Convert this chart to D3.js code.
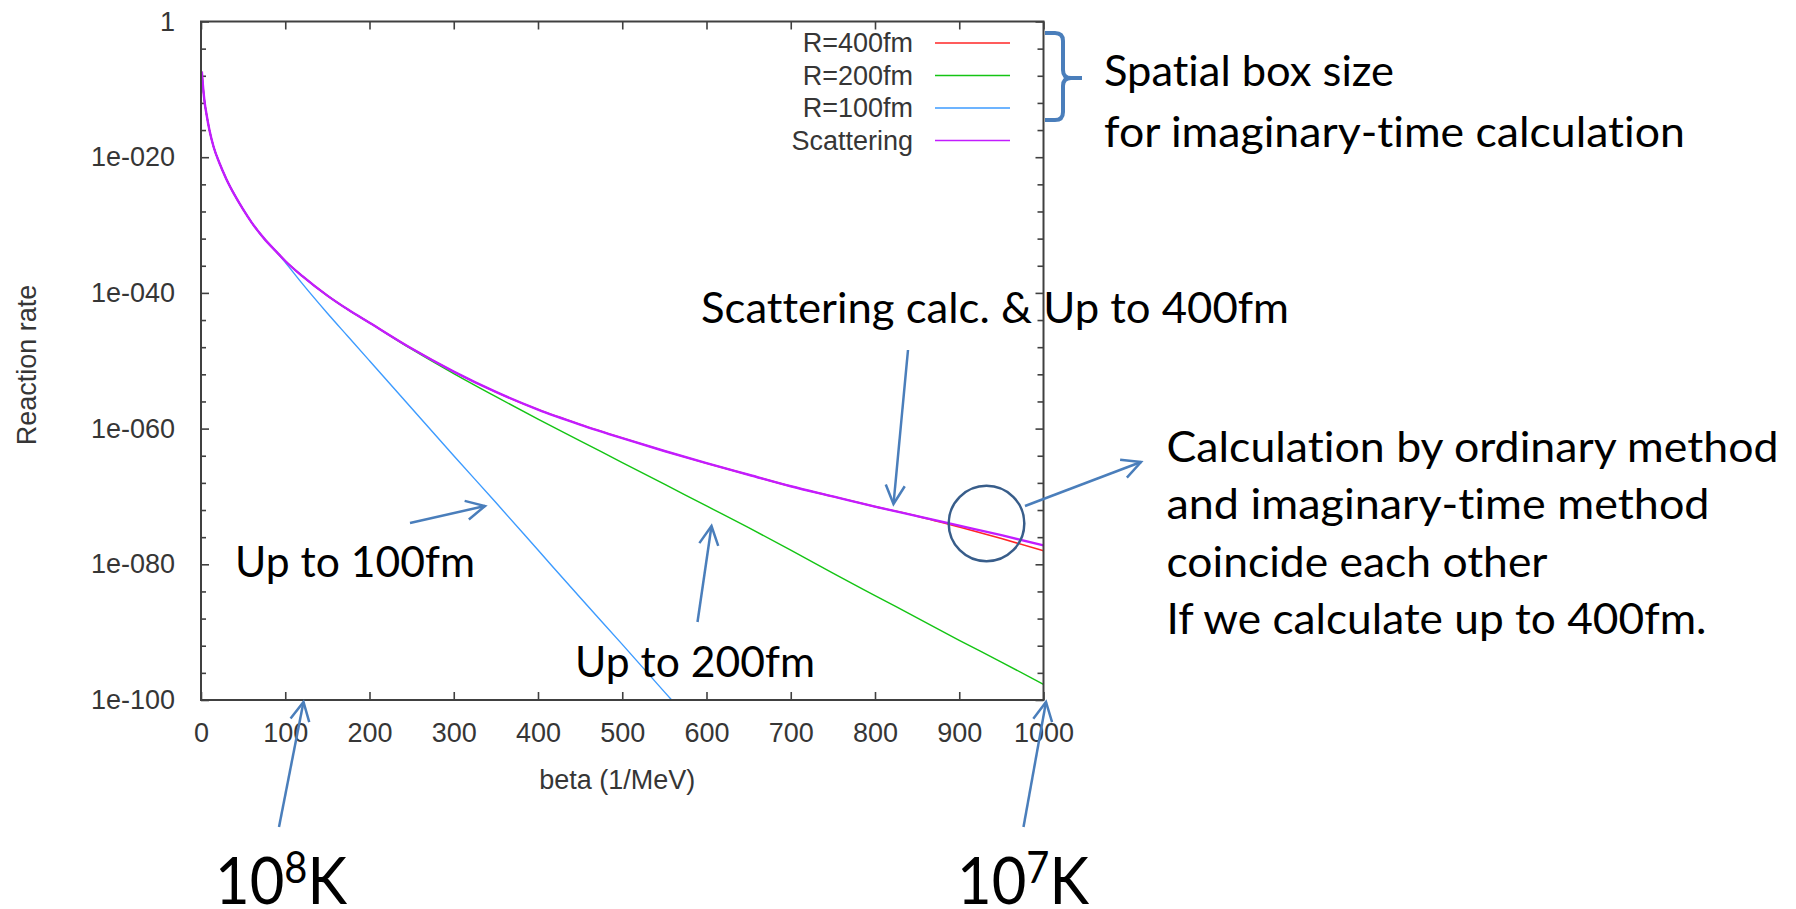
<!DOCTYPE html>
<html><head><meta charset="utf-8">
<script src="https://cdn.jsdelivr.net/npm/d3@7"></script>
<style>
html,body{margin:0;padding:0;background:#fff;}
svg{display:block;}
text{font-variant-ligatures:none;font-feature-settings:"liga" 0,"clig" 0,"dlig" 0;}
</style></head>
<body>
<svg id="chart" width="1796" height="909"></svg>
<script>
// Inverse temperature grid, beta (1/MeV)
const betaGrid = [1,2,4,7,10,15,22,30,40,50,60,75,90,100,120,150,175,200,250,300,350,400,450,500,550,600,650,700,750,800,850,900,950,1000];

// log10 of the reaction rate for each calculation
const scatteringExp = [-7.4,-9.0,-11.6,-14.0,-16.0,-18.5,-20.9,-23.2,-25.6,-27.7,-29.6,-32.0,-34.0,-35.3,-37.5,-40.4,-42.5,-44.4,-48.2,-51.6,-54.6,-57.2,-59.4,-61.4,-63.3,-65.1,-66.8,-68.5,-70.0,-71.5,-72.9,-74.3,-75.7,-77.2];
const r400Exp = [-7.4,-9.0,-11.6,-14.0,-16.0,-18.5,-20.9,-23.2,-25.6,-27.7,-29.6,-32.0,-34.0,-35.3,-37.5,-40.4,-42.5,-44.4,-48.2,-51.6,-54.6,-57.2,-59.4,-61.4,-63.3,-65.1,-66.8,-68.5,-70.0,-71.5,-72.9,-74.5,-76.2,-78.0];
const r200Exp = [-7.4,-9.0,-11.6,-14.0,-16.0,-18.5,-20.9,-23.2,-25.6,-27.7,-29.6,-32.0,-34.0,-35.3,-37.5,-40.4,-42.5,-44.4,-48.3,-51.9,-55.3,-58.6,-61.8,-65.0,-68.2,-71.4,-74.6,-77.9,-81.3,-84.6,-87.9,-91.2,-94.4,-97.7];
const r100Beta = [1,2,4,7,10,15,22,30,40,50,60,75,90,100,120,150,175,200,250,300,350,400,450,500,550,600];
const r100Exp = [-7.4,-9.0,-11.6,-14.0,-16.0,-18.5,-20.9,-23.2,-25.6,-27.7,-29.6,-32.0,-34.0,-35.5,-38.6,-43.0,-46.5,-50.0,-57.0,-64.0,-70.9,-77.9,-84.9,-91.8,-98.8,-105.7];

const seriesNames = ["R=400fm","R=200fm","R=100fm","Scattering"];
const seriesColors = ["#ff2626","#14c414","#3d9bff","#c21cff"];
const seriesWidths = [1.6,1.4,1.4,2.4];

const xTickValues = [0,100,200,300,400,500,600,700,800,900,1000];
const yTickExponents = [0,-20,-40,-60,-80,-100];
const yTickLabels = ["1","1e-020","1e-040","1e-060","1e-080","1e-100"];
const yMinorExponents = [-4,-8,-12,-16,-24,-28,-32,-36,-44,-48,-52,-56,-64,-68,-72,-76,-84,-88,-92,-96];

const series = [
  {beta: betaGrid, exp: r400Exp},
  {beta: betaGrid, exp: r200Exp},
  {beta: r100Beta, exp: r100Exp},
  {beta: betaGrid, exp: scatteringExp}
];

// plot frame
const plotLeft = 201, plotRight = 1043.5, plotTop = 21.5, plotBottom = 700;
const svg = d3.select("#chart");
const x = d3.scaleLinear().domain([0, 1000]).range([plotLeft, plotRight]);
const y = d3.scaleLog().domain([1e-100, 1]).range([plotBottom, plotTop]);

const axisFont = "'Liberation Sans', Arial, sans-serif";
const axisInk = "#363636";
const frameInk = "#404040";

function styleAxis(g) {
  g.select(".domain").remove();
  g.selectAll(".tick line").attr("stroke", frameInk).attr("stroke-width", 1.6);
  g.selectAll("text").attr("fill", axisInk).style("font-family", axisFont).style("font-size", "27px");
}

// bottom axis with labels
svg.append("g").attr("transform", `translate(0,${plotBottom})`)
  .call(d3.axisBottom(x).tickValues(xTickValues).tickSizeInner(-8).tickSizeOuter(0).tickPadding(23).tickFormat(d3.format("d")))
  .call(styleAxis);
// top mirror ticks
svg.append("g").attr("transform", `translate(0,${plotTop})`)
  .call(d3.axisTop(x).tickValues(xTickValues).tickSizeInner(-8).tickSizeOuter(0).tickFormat(""))
  .call(styleAxis);

const yLabelOf = v => yTickLabels[yTickExponents.indexOf(Math.round(Math.log10(v)))];
// left axis with labels
svg.append("g").attr("transform", `translate(${plotLeft},0)`)
  .call(d3.axisLeft(y).tickValues(yTickExponents.map(e => Math.pow(10, e))).tickSizeInner(-8).tickSizeOuter(0).tickPadding(26).tickFormat(yLabelOf))
  .call(styleAxis);
svg.append("g").attr("transform", `translate(${plotLeft},0)`)
  .call(d3.axisLeft(y).tickValues(yMinorExponents.map(e => Math.pow(10, e))).tickSizeInner(-5).tickSizeOuter(0).tickFormat(""))
  .call(styleAxis);
// right mirror ticks
svg.append("g").attr("transform", `translate(${plotRight},0)`)
  .call(d3.axisRight(y).tickValues(yTickExponents.map(e => Math.pow(10, e))).tickSizeInner(-8).tickSizeOuter(0).tickFormat(""))
  .call(styleAxis);
svg.append("g").attr("transform", `translate(${plotRight},0)`)
  .call(d3.axisRight(y).tickValues(yMinorExponents.map(e => Math.pow(10, e))).tickSizeInner(-6).tickSizeOuter(0).tickFormat(""))
  .call(styleAxis);

// axis titles
svg.append("text").attr("x", (plotLeft + plotRight) / 2 - 5).attr("y", 789)
  .attr("text-anchor", "middle").attr("fill", axisInk)
  .style("font-family", axisFont).style("font-size", "27px").text("beta (1/MeV)");
svg.append("text").attr("transform", "translate(36,365) rotate(-90)")
  .attr("text-anchor", "middle").attr("fill", axisInk)
  .style("font-family", axisFont).style("font-size", "27px").text("Reaction rate");

// curves
svg.append("clipPath").attr("id", "plotClip").append("rect")
  .attr("x", plotLeft).attr("y", plotTop).attr("width", plotRight - plotLeft).attr("height", plotBottom - plotTop);
const line = d3.line().x(d => x(d[0])).y(d => y(Math.pow(10, d[1]))).curve(d3.curveMonotoneX);
series.forEach((s, i) => {
  const pts = s.beta.map((b, j) => [b, s.exp[j]]);
  svg.append("path").attr("clip-path", "url(#plotClip)")
    .attr("d", line(pts))
    .attr("fill", "none").attr("stroke", seriesColors[i])
    .attr("stroke-width", seriesWidths[i]).attr("stroke-linejoin", "round");
});

// frame
svg.append("rect").attr("x", plotLeft).attr("y", plotTop).attr("width", plotRight - plotLeft).attr("height", plotBottom - plotTop)
  .attr("fill", "none").attr("stroke", frameInk).attr("stroke-width", 2);

// legend
const legend = svg.append("g");
seriesNames.forEach((name, i) => {
  const ly = 43 + i * 32.5;
  legend.append("text").attr("x", 913).attr("y", ly).attr("dy", "0.35em")
    .attr("text-anchor", "end").attr("fill", axisInk)
    .style("font-family", axisFont).style("font-size", "27px").text(name);
  legend.append("line").attr("x1", 935).attr("x2", 1010).attr("y1", ly).attr("y2", ly)
    .attr("stroke", seriesColors[i]).attr("stroke-width", 1.6);
});

// callouts
const noteFont = "Lato, 'Open Sans', sans-serif";
const arrowInk = "#4a7ebb";
const notes = [
  {text: "Spatial box size", x: 1104, y: 86, w: 290},
  {text: "for imaginary-time calculation", x: 1104, y: 147, w: 581},
  {text: "Scattering calc. & Up to 400fm", x: 701, y: 323, w: 588},
  {text: "Calculation by ordinary method", x: 1166.5, y: 461.5, w: 612},
  {text: "and imaginary-time method", x: 1166.5, y: 519, w: 543},
  {text: "coincide each other", x: 1166.5, y: 576.5, w: 381},
  {text: "If we calculate up to 400fm.", x: 1166.5, y: 634, w: 540},
  {text: "Up to 100fm", x: 235, y: 577, w: 240},
  {text: "Up to 200fm", x: 575, y: 677, w: 240}
];
notes.forEach(n => {
  svg.append("text").attr("x", n.x).attr("y", n.y)
    .attr("textLength", n.w).attr("lengthAdjust", "spacingAndGlyphs")
    .attr("fill", "#000").style("font-family", noteFont).style("font-size", "43px")
    .text(n.text);
});

// temperature labels with superscript exponents
[{base: "10", sup: "8", x: 215}, {base: "10", sup: "7", x: 957}].forEach(t => {
  const txt = svg.append("text").attr("x", t.x).attr("y", 904)
    .attr("textLength", 132).attr("lengthAdjust", "spacingAndGlyphs")
    .attr("fill", "#000").style("font-family", noteFont).style("font-size", "66px");
  txt.append("tspan").text(t.base);
  txt.append("tspan").attr("dy", -21).style("font-size", "44px").text(t.sup);
  txt.append("tspan").attr("dy", 21).text("K");
});

// arrows
const arrows = [
  [[410, 523], [485, 506]],
  [[697.5, 622], [711.5, 526]],
  [[908, 350], [893.5, 504]],
  [[1025, 506], [1141, 462]],
  [[279, 827], [303.5, 702]],
  [[1023.5, 827], [1046, 702]]
];
arrows.forEach(([a, b]) => {
  svg.append("line").attr("x1", a[0]).attr("y1", a[1]).attr("x2", b[0]).attr("y2", b[1])
    .attr("stroke", arrowInk).attr("stroke-width", 2.5);
  const ang = Math.atan2(a[1] - b[1], a[0] - b[0]);
  const len = 21, spread = 27 * Math.PI / 180;
  const p1 = [b[0] + len * Math.cos(ang + spread), b[1] + len * Math.sin(ang + spread)];
  const p2 = [b[0] + len * Math.cos(ang - spread), b[1] + len * Math.sin(ang - spread)];
  svg.append("path").attr("d", `M${p1[0]},${p1[1]}L${b[0]},${b[1]}L${p2[0]},${p2[1]}`)
    .attr("fill", "none").attr("stroke", arrowInk).attr("stroke-width", 2.5)
    .attr("stroke-linejoin", "miter");
});

// circle marking where the methods agree
svg.append("circle").attr("cx", 986.5).attr("cy", 523.5).attr("r", 37.8)
  .attr("fill", "none").attr("stroke", "#385d8a").attr("stroke-width", 2.5);

// brace grouping the box-size entries
svg.append("path")
  .attr("d", "M1045,33 H1055 Q1063,33 1063,41 V70 Q1063,78 1071,78 H1082 M1071,78 Q1063,78 1063,86 V112 Q1063,120 1055,120 H1045")
  .attr("fill", "none").attr("stroke", arrowInk).attr("stroke-width", 4);
</script>
</body></html>
